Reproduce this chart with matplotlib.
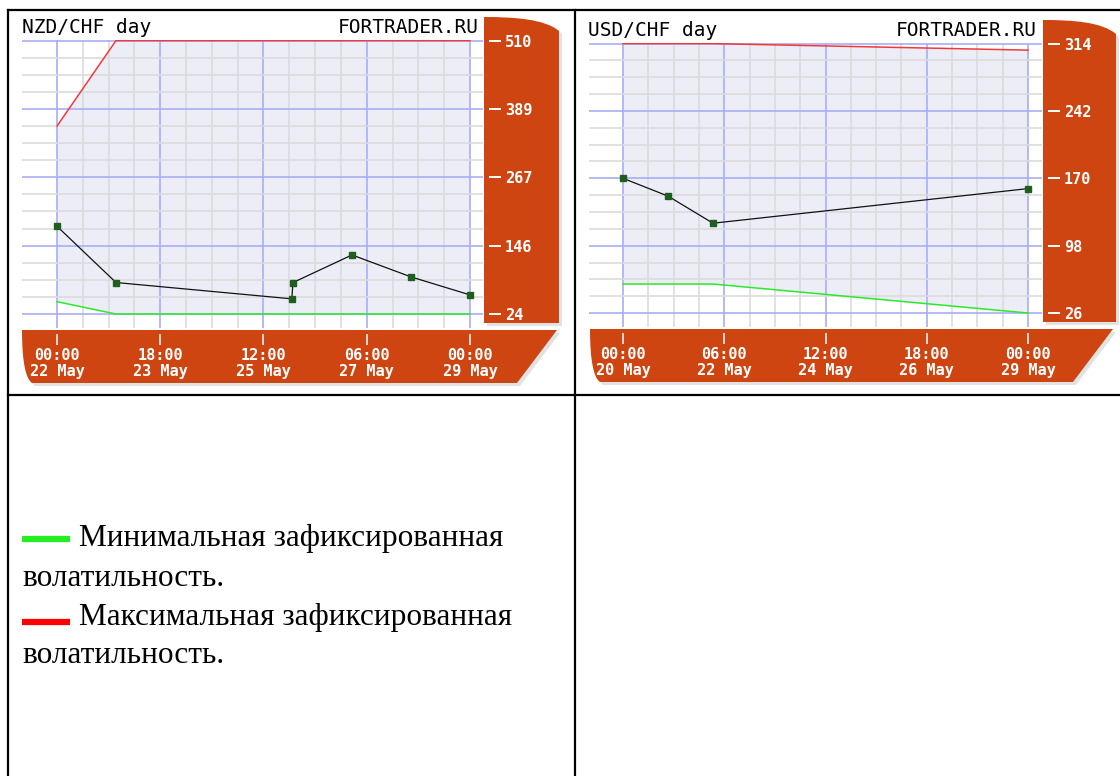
import matplotlib
matplotlib.use('Agg')
import matplotlib.pyplot as plt
import matplotlib.transforms as mtrans
from matplotlib.path import Path
from matplotlib.patches import PathPatch
from matplotlib.lines import Line2D
from matplotlib.ticker import FixedLocator

# ---- data ----
nzd_hours = [0, 24, 95.5, 96, 120, 144, 168]
nzd_vol = [180, 80, 51, 80, 129, 90, 58]
nzd_lim_hours = [0, 24, 168]
nzd_max = [358, 510, 510]
nzd_min = [46, 24, 24]
nzd_yticks = [24, 145.5, 267, 388.5, 510]
nzd_ylabels = ['24', '146', '267', '389', '510']
nzd_xticks = [0, 42, 84, 126, 168]
nzd_xlabels = ['00:00\n22 May', '18:00\n23 May', '12:00\n25 May', '06:00\n27 May', '00:00\n29 May']

usd_hours = [0, 24, 48, 216]
usd_vol = [170, 151, 122, 159]
usd_lim_hours = [0, 48, 216]
usd_max = [314, 314, 307]
usd_min = [57, 57, 26]
usd_yticks = [26, 98, 170, 242, 314]
usd_ylabels = ['26', '98', '170', '242', '314']
usd_xticks = [0, 54, 108, 162, 216]
usd_xlabels = ['00:00\n20 May', '06:00\n22 May', '12:00\n24 May', '18:00\n26 May', '00:00\n29 May']

legend_lines = ['Минимальная зафиксированная', 'волатильность.',
                'Максимальная зафиксированная', 'волатильность.']

W, H = 1120, 776
fig = plt.figure(figsize=(W / 100, H / 100), dpi=100)
fig.patch.set_facecolor('white')
# pixel coordinates, y measured from the top
px = mtrans.Affine2D().scale(1 / W, -1 / H).translate(0, 1) + fig.transFigure

ORANGE = '#CF4511'
MONO = 'DejaVu Sans Mono'


def add_shape(verts, codes):
    sh = [(x + 3, y + 3) for x, y in verts]
    fig.add_artist(PathPatch(Path(sh, codes), transform=px, facecolor='#E2E2E2',
                             edgecolor='none', zorder=-2))
    fig.add_artist(PathPatch(Path(verts, codes), transform=px, facecolor=ORANGE,
                             edgecolor='none', zorder=-1))


def panels(rx0, ry0, rx1, ry1, bx0, by0, bx1, by1):
    # right value panel with rounded top
    add_shape([(rx0, ry1), (rx0, ry0), (rx0 + 30, ry0), (rx1 - 14, ry0 + 2), (rx1, ry0 + 14),
               (rx1, ry1), (rx0, ry1)],
              [Path.MOVETO, Path.LINETO, Path.CURVE4, Path.CURVE4, Path.CURVE4,
               Path.LINETO, Path.CLOSEPOLY])
    # bottom time panel with slanted right side
    add_shape([(bx0, by0), (bx1, by0), (bx1 - 40, by1), (bx0 + 10, by1),
               (bx0 + 4, by1 - 4), (bx0, by1 - 20), (bx0, by0), (bx0, by0)],
              [Path.MOVETO, Path.LINETO, Path.LINETO, Path.LINETO,
               Path.CURVE4, Path.CURVE4, Path.CURVE4, Path.CLOSEPOLY])


def chart(box, xcal, ycal, xticks, xlabels, yticks, ylabels,
          hours, vol, lim_hours, vmax, vmin):
    x0, y0, x1, y1 = box
    ax = fig.add_axes([x0 / W, 1 - y1 / H, (x1 - x0) / W, (y1 - y0) / H])
    (pa, ha), (pb, hb) = xcal
    hpp = (hb - ha) / (pb - pa)
    ax.set_xlim(ha + (x0 - pa) * hpp, ha + (x1 - pa) * hpp)
    (qa, va), (qb, vb) = ycal
    vpp = (vb - va) / (qa - qb)
    ax.set_ylim(va - (y1 - qa) * vpp, va + (qa - y0 + 0.6) * vpp)

    xstep = (xticks[1] - xticks[0]) / 4
    ystep = (yticks[1] - yticks[0]) / 4
    ax.xaxis.set_major_locator(FixedLocator(xticks))
    ax.xaxis.set_minor_locator(FixedLocator([xticks[0] + i * xstep for i in range(17)]))
    ax.yaxis.set_major_locator(FixedLocator(yticks))
    ax.yaxis.set_minor_locator(FixedLocator([yticks[0] + i * ystep for i in range(17)]))
    ax.grid(True, which='minor', color='#DCDCDC', lw=1.2)
    ax.grid(True, which='major', color='#A8AEF6', lw=1.2)
    ax.set_axisbelow(True)

    ax.fill_between(lim_hours, vmin, vmax, color='#EDEDF8', lw=0, zorder=0.2)
    ax.plot(lim_hours, vmax, color='#F03A3A', lw=1.1, zorder=2)
    ax.plot(lim_hours, vmin, color='#2BEA2B', lw=1.1, zorder=2)
    ax.plot(hours, vol, color='#111111', lw=0.9, zorder=3, marker='s', ms=5,
            mfc='#1E5E1E', mec='#1E5E1E')

    for s in ax.spines.values():
        s.set_visible(False)
    ax.spines['bottom'].set_position(('outward', 4.3))
    ax.spines['right'].set_position(('outward', 4.3))
    ax.yaxis.tick_right()
    ax.set_xticklabels(xlabels, fontfamily=MONO, fontweight='bold', fontsize=11,
                       color='white', linespacing=1.1)
    ax.set_yticklabels(ylabels, fontfamily=MONO, fontweight='bold', fontsize=11,
                       color='white')
    ax.tick_params(axis='x', which='major', direction='out', length=7.9, width=1.1,
                   color='white', pad=2)
    ax.tick_params(axis='y', which='major', direction='out', length=8.6, width=1.4,
                   color='white', pad=3)
    ax.tick_params(which='minor', length=0)
    return ax


# NZD/CHF
panels(484, 17, 559, 323, 22, 330, 557, 383)
chart((22, 40, 483, 328), ((57, 0), (470, 168)), ((314, 24), (40, 510)),
      nzd_xticks, nzd_xlabels, nzd_yticks, nzd_ylabels,
      nzd_hours, nzd_vol, nzd_lim_hours, nzd_max, nzd_min)
fig.text(22, 33, 'NZD/CHF day', transform=px, fontfamily=MONO, fontsize=14,
         va='baseline', ha='left')
fig.text(479, 33, 'FORTRADER.RU', transform=px, fontfamily=MONO, fontsize=14,
         va='baseline', ha='right')

# USD/CHF
panels(1043, 20, 1116, 322, 590, 329, 1113, 382)
chart((589, 43, 1042, 327), ((623, 0), (1028, 216)), ((313, 26), (43, 314)),
      usd_xticks, usd_xlabels, usd_yticks, usd_ylabels,
      usd_hours, usd_vol, usd_lim_hours, usd_max, usd_min)
fig.text(588, 36, 'USD/CHF day', transform=px, fontfamily=MONO, fontsize=14,
         va='baseline', ha='left')
fig.text(1037, 36, 'FORTRADER.RU', transform=px, fontfamily=MONO, fontsize=14,
         va='baseline', ha='right')

# table borders
for xs, ys in [([8, 1120], [10, 10]), ([8, 1120], [395, 395]),
               ([8, 8], [10, 776]), ([575, 575], [10, 776])]:
    fig.add_artist(Line2D(xs, ys, transform=px, color='black', lw=1.6))

# legend cell
fig.add_artist(Line2D([22, 70], [538.5, 538.5], transform=px, color='#22EE22', lw=4.5,
                      solid_capstyle='butt'))
fig.add_artist(Line2D([22, 70], [622, 622], transform=px, color='#FF0000', lw=4.5,
                      solid_capstyle='butt'))
for (x, y), t in zip([(79, 546), (22, 586), (79, 625), (22, 663)], legend_lines):
    fig.text(x, y, t, transform=px, fontfamily='Liberation Serif', fontsize=22.5,
             va='baseline', ha='left', color='black')

fig.savefig('out.png', dpi=100, facecolor='white')
